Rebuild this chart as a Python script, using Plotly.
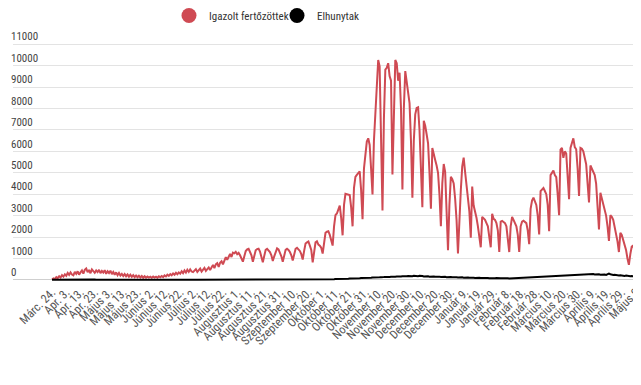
import plotly.graph_objects as go

tick_labels = ["Márc. 24.", "Apr. 3.", "Apr. 13.", "Apr. 23.", "Május 3.", "Május 13.", "Május 23.",
               "Június 2.", "Június 12.", "Június 22.", "Július 2.", "Július 12.", "Július 22.",
               "Augusztus 1.", "Augusztus 11.", "Augusztus 21.", "Augusztus 31.", "Szeptember 10.",
               "Szeptember 20.", "Október 1.", "Október 11.", "Október 21.", "Október 31.",
               "November 10.", "November 20.", "November 30.", "December 10.", "December 20.",
               "December 30.", "Január 9.", "Január 19.", "Január 29.", "Február 8.", "Február 18.",
               "Február 28.", "Március 10.", "Március 20.", "Március 30.", "Április 9.",
               "Április 19.", "Április 29.", "Május 9"]

cases = [
    20, 70, 40, 130, 80, 170, 110, 220, 150, 260,
    190, 320, 230, 350, 250, 210, 370, 280, 400, 240,
    350, 440, 290, 470, 530, 360, 460, 310, 490, 380,
    330, 440, 360, 470, 310, 420, 340, 450, 280, 400,
    320, 430, 270, 370, 240, 350, 220, 320, 200, 280,
    180, 270, 170, 250, 150, 240, 140, 220, 130, 200,
    120, 190, 110, 180, 100, 170, 100, 160, 110, 150,
    100, 160, 110, 150, 100, 170, 120, 180, 130, 210,
    160, 240, 190, 270, 210, 300, 240, 330, 260, 350,
    290, 400, 310, 440, 340, 470, 370, 490, 390, 360,
    430, 500, 370, 470, 530, 390, 480, 560, 420, 520,
    580, 460, 620, 700, 550, 720, 780, 610, 800, 870,
    720, 920, 1060, 940, 1120, 1210, 1070, 1270, 1240, 1310,
    1200, 1260, 1150, 1000, 850, 1100, 1350, 1420, 1450, 1300,
    1150, 850, 1150, 1380, 1440, 1460, 1320, 1100, 820, 1120,
    1400, 1450, 1380, 1300, 1150, 880, 1100, 1350, 1470, 1420,
    1280, 1100, 850, 1150, 1400, 1450, 1400, 1300, 1150, 900,
    1200, 1450, 1500, 1420, 1350, 1200, 950, 1350, 1700, 1750,
    1790, 1600, 1400, 820, 1300, 1750, 1800, 1650, 1600, 1500,
    1230, 1800, 2200, 2250, 2270, 2100, 1900, 1600, 2500, 3020,
    3100, 3300, 3470, 2900, 2080, 3500, 4020, 4000, 3980, 3960,
    3400, 2500, 4300, 4810, 4900, 5000, 5070, 4200, 2830, 5200,
    6000, 6460, 6610, 6300, 5200, 3990, 6500, 7730, 9500, 10270,
    9970, 7000, 3240, 7500, 9820, 9900, 10120, 9520, 9300, 4920,
    8000, 10270, 10120, 9300, 9670, 8000, 4220, 8000, 9750, 9300,
    8920, 8250, 6500, 3840, 6500, 7730, 8030, 8060, 7000, 5500,
    3390, 7430, 7200, 6800, 6380, 5000, 3320, 6160, 5930, 5600,
    5340, 5000, 4000, 2500, 4500, 5410, 5040, 3500, 1380, 3500,
    4810, 4700, 4500, 3800, 2800, 1230, 3090, 4200, 5300, 5710,
    5040, 4440, 4000, 3200, 1970, 4360, 3470, 3240, 2900, 2500,
    2000, 1520, 2940, 2850, 2800, 2650, 2500, 2000, 1520, 3090,
    2850, 2800, 2650, 2300, 1300, 2720, 2750, 2700, 2650, 2500,
    2000, 1300, 2500, 2940, 2800, 2600, 2500, 2100, 1300, 2500,
    2720, 2760, 2700, 2650, 2300, 1670, 3320, 3700, 3840, 3650,
    3500, 3000, 2120, 4140, 4200, 4290, 4150, 4000, 3500, 2270,
    4890, 5000, 5110, 4900, 4800, 4000, 3020, 6080, 6160, 5700,
    6000, 5900, 5000, 3770, 6160, 6400, 6610, 6200, 6100, 5200,
    3920, 6160, 6120, 6000, 5710, 5400, 4500, 3620, 5340, 5200,
    5100, 4890, 4500, 3500, 2350, 4070, 3800, 3600, 3320, 3000,
    2500, 1820, 3020, 2950, 2800, 2500, 2200, 1800, 1300, 2200,
    2100, 1900, 1700, 1400, 1000, 700, 1200, 1550, 1600, 1380,
    850,
]

deaths = [
    2, 3, 1, 4, 6, 3, 8, 5, 9, 7,
    10, 8, 12, 9, 14, 11, 13, 10, 15, 12,
    14, 11, 13, 16, 12, 15, 10, 13, 11, 14,
    12, 9, 11, 13, 10, 8, 12, 9, 11, 7,
    9, 6, 8, 10, 7, 5, 8, 6, 4, 7,
    5, 3, 6, 4, 2, 5, 3, 4, 2, 3,
    1, 3, 2, 4, 1, 2, 0, 3, 1, 2,
    0, 1, 2, 0, 1, 0, 2, 1, 0, 1,
    0, 1, 0, 2, 0, 1, 0, 0, 1, 0,
    1, 0, 0, 1, 0, 0, 1, 0, 0, 1,
    0, 1, 0, 0, 1, 0, 2, 1, 0, 1,
    1, 0, 2, 1, 0, 1, 2, 0, 1, 1,
    2, 1, 3, 0, 2, 1, 3, 2, 1, 2,
    3, 2, 1, 4, 2, 3, 1, 2, 4, 3,
    5, 2, 4, 3, 6, 4, 5, 3, 6, 5,
    4, 7, 5, 6, 8, 5, 7, 6, 9, 7,
    8, 10, 7, 9, 11, 8, 10, 12, 9, 11,
    13, 10, 14, 12, 15, 11, 16, 14, 18, 15,
    17, 20, 16, 19, 22, 18, 24, 20, 23, 26,
    22, 27, 25, 30, 28, 33, 29, 35, 32, 38,
    36, 42, 39, 46, 44, 50, 47, 55, 52, 60,
    58, 65, 62, 70, 68, 76, 74, 82, 80, 88,
    86, 95, 92, 100, 98, 108, 104, 112, 110, 120,
    118, 126, 115, 130, 135, 124, 140, 132, 145, 138,
    150, 142, 158, 148, 162, 155, 170, 160, 175, 165,
    180, 168, 185, 172, 190, 175, 182, 170, 186, 165,
    178, 160, 172, 155, 168, 150, 165, 148, 160, 142,
    155, 138, 150, 132, 146, 128, 140, 125, 136, 120,
    132, 118, 128, 112, 125, 108, 120, 105, 116, 100,
    112, 98, 108, 95, 104, 92, 100, 90, 98, 88,
    95, 85, 92, 82, 90, 80, 88, 78, 86, 76,
    84, 75, 82, 72, 80, 70, 78, 68, 76, 70,
    74, 68, 72, 66, 75, 70, 78, 72, 80, 74,
    84, 78, 88, 82, 94, 88, 100, 95, 108, 102,
    115, 110, 124, 118, 132, 126, 140, 135, 150, 142,
    160, 152, 170, 162, 182, 172, 190, 182, 200, 190,
    210, 198, 218, 205, 225, 212, 232, 220, 240, 226,
    246, 232, 252, 238, 258, 242, 262, 248, 268, 252,
    272, 255, 265, 248, 258, 240, 250, 232, 245, 228,
    275, 290, 262, 240, 225, 238, 215, 228, 205, 218,
    195, 208, 185, 198, 175, 188, 165, 178, 155, 160,
    150,
]

series_names = ["Igazolt fertőzöttek", "Elhunytak"]
series_colors = ["#cf4a53", "#000000"]

days = list(range(len(cases)))
tick_positions = [i * 10 for i in range(len(tick_labels))]

FONT = "Liberation Sans Narrow, Roboto Condensed, DejaVu Sans Condensed, Arial Narrow, Roboto, sans-serif"

fig = go.Figure()
legend_ids = ["legend", "legend2"]
legend_x = [0.2484, 0.4204]
for name, vals, col, lg in zip(series_names, [cases, deaths], series_colors, legend_ids):
    fig.add_trace(go.Scatter(x=days, y=vals, mode="lines", name=name,
                             line=dict(color=col, width=2), showlegend=False))
    fig.add_trace(go.Scatter(x=[None], y=[None], mode="markers", name=name, legend=lg,
                             marker=dict(color=col, size=15, symbol="circle")))

leg_common = dict(orientation="h", xanchor="left", yref="container", y=1 - 7.5 / 377,
                  yanchor="middle", font=dict(family=FONT, size=11, color="#333"),
                  itemsizing="trace", itemwidth=30, bgcolor="rgba(0,0,0,0)", borderwidth=0)

fig.update_layout(
    width=633, height=377,
    margin=dict(l=5, r=0, t=10, b=103),
    paper_bgcolor="white", plot_bgcolor="white",
    font=dict(family=FONT, size=11, color="#444"),
    legend=dict(x=legend_x[0], **leg_common),
    legend2=dict(x=legend_x[1], **leg_common),
    xaxis=dict(range=[-27.4, 413.5], tickvals=tick_positions, ticktext=tick_labels,
               tickangle=-45, showgrid=False, zeroline=False, showline=False,
               ticks="", tickfont=dict(family=FONT, size=12, color="#555"), automargin=False,
               ticklabeloverflow="allow"),
    yaxis=dict(range=[-100, 11669], dtick=1000, tick0=0, tickformat="d", showgrid=True,
               gridcolor="#e3e3e3", gridwidth=1, zeroline=True, zerolinecolor="#cfcfcf",
               zerolinewidth=1, ticklabelposition="inside top", ticks="",
               ticklabelstandoff=-5, automargin=False,
               tickfont=dict(family=FONT, size=11, color="#444"), showline=False),
    showlegend=True,
)

fig.write_html("out.html")
